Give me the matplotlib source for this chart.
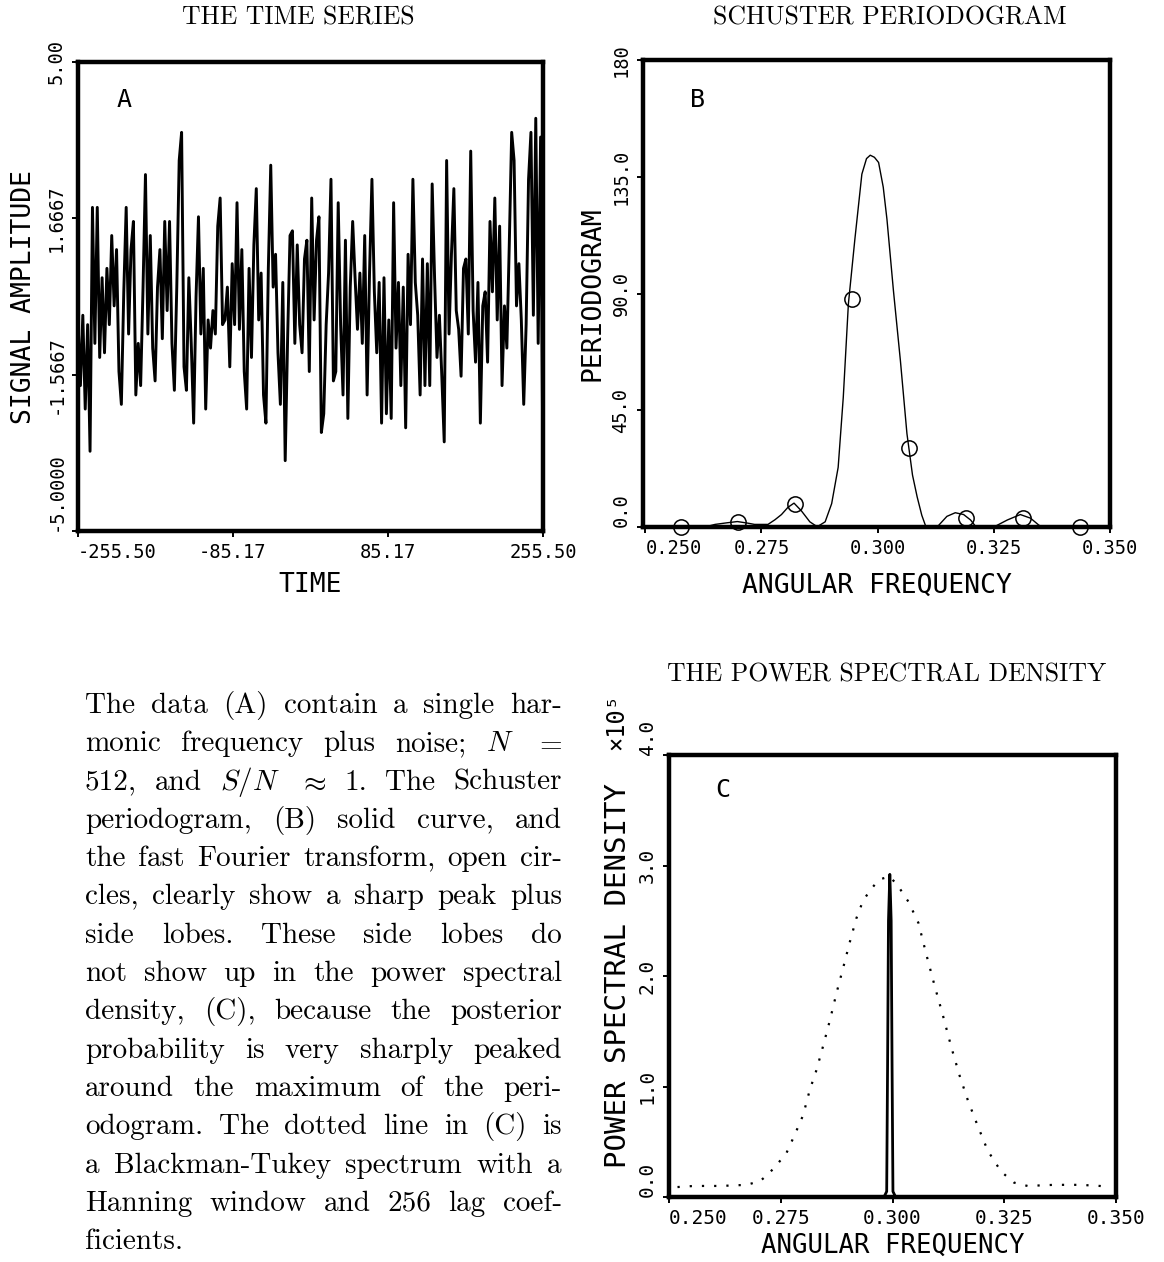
import numpy as np
import matplotlib
matplotlib.use("Agg")
import matplotlib.pyplot as plt

W, H, DPI = 1164, 1262, 100
MONO = "DejaVu Sans Mono"
SERIF = "cmr10"
plt.rcParams["font.family"] = MONO
plt.rcParams["mathtext.fontset"] = "cm"

# ---- (A) time series (left -> right) ----
ts_part1 = [-0.5, -1.9, -0.4, -2.4, -0.6, -3.3, 1.9, -1.0, 1.9, -1.3, 0.4, -1.2, 0.6, -0.6,
            1.3, -0.2, 1.0, -1.6, -2.3, 0.1, 1.9, -0.8, 1.0, 1.6, -2.1, -1.0, -1.9, 0.2, 2.6,
            -0.8, 1.3, -1.1, -1.8, 0.2, 1.0, -0.9, 1.6, -0.3, 1.6, -1.0, -2.0, 0.2, 2.9, 3.5,
            -1.5, -2.0, 0.4, -1.0, -2.7, 0.0, 1.7, -0.8, 0.6, -2.4, -0.5, -1.1, -0.3, -0.8,
            1.5, 2.1, -0.6]
ts_part2 = [-0.5, 0.2, -1.5, 0.7, -0.6, 2.0, -0.7, 1.0, -1.6, -2.4, 0.6, -1.3, 1.1, 2.3,
            -0.5, 0.5, -2.1, -2.7, 0.6, 2.8, 0.2, 0.9, -1.2, -2.3, 0.3, -3.5, -0.9, 1.3, 1.4,
            -1.0, 1.1, -0.6, -1.2, 0.8, 1.2, -1.6, 2.1, -0.5, 1.2, 1.7, -2.9, -2.5, -0.6, 0.5,
            2.5, -1.8, -1.6, 2.0, -0.6, -2.1, 1.2, -2.6, 0.2, 1.6, 0.4, -0.7, 0.5, -1.0, 1.3,
            -2.1, 0.5, 2.5, 0.1, -1.2, 0.3, -2.7]
ts_part3 = [0.4, -2.5, -0.5, -2.6, 2.0, -1.1, 0.3, -1.9, 0.2, -2.8, 0.9, -0.6, 2.5, 0.3,
            -0.4, -2.1, 0.8, -1.9, 0.7, -1.9, 2.4, 0.4, -1.3, -0.4, -1.7, -3.1, 2.9, -0.8, 0.9,
            2.3, -0.3, -0.7, -1.7, 0.6, 0.8, -0.8, 3.1, -0.3, -1.4, 0.3, -2.7, -0.2, 0.1, -1.4,
            1.6, 0.1, 2.1, -0.5, 1.5, -1.9, -0.2, -1.1, 1.1, 3.5, 2.9, -0.2, 0.7, -0.5, -2.3,
            -0.6, 2.5, 3.5, -0.4, 3.8, -1.0, 3.4, -4.0]
ts_vals = ts_part1 + ts_part2 + ts_part3
T_MIN, T_MAX = -255.5, 255.5
time_ticks = [-255.5, -85.17, 85.17, 255.5]
time_ticklabels = ["-255.50", "-85.17", "85.17", "255.50"]
amp_ticks = [-5.0, -1.6667, 1.6667, 5.0]
amp_ticklabels = ["-5.0000", "-1.5667", "1.6667", "5.00"]

# ---- (B) Schuster periodogram (solid) + FFT points (circles) ----
per_freq = [0.2495, 0.255, 0.260, 0.2635, 0.265, 0.2675, 0.2698, 0.272, 0.2735, 0.2764,
            0.2779, 0.2793, 0.2807, 0.282, 0.2836, 0.2854, 0.287, 0.2887, 0.2901, 0.2915,
            0.2926, 0.2937, 0.2951, 0.2966, 0.2976, 0.2984, 0.2993, 0.3002, 0.3012, 0.302,
            0.3034, 0.3049, 0.3063, 0.3075, 0.3085, 0.3095, 0.3103, 0.3128, 0.3149, 0.3167,
            0.3185, 0.320, 0.321, 0.325, 0.3279, 0.3307, 0.3329, 0.3347, 0.3354, 0.350]
per_vals = [0, 0, 0, 0.3, 1.0, 1.6, 2.1, 1.5, 1.0, 1.0,
            2.8, 4.8, 7.6, 9.2, 6.2, 2.0, 0.1, 2.0, 9.0, 23.0,
            50.0, 86.0, 111.0, 136.0, 142.0, 143.3, 142.5, 140.5, 131.0, 118.6,
            91.0, 64.0, 36.0, 20.0, 11.6, 4.5, 0.5, 0, 4.1, 5.5,
            4.8, 2.7, 0.4, 0, 2.7, 4.8, 3.4, 0.7, 0, 0]
fft_freq = [0.2576, 0.2699, 0.2822, 0.2945, 0.3067, 0.3190, 0.3313, 0.3436]
fft_vals = [0, 2.0, 9.0, 88.0, 30.5, 3.4, 3.4, 0]
freq_ticks = [0.250, 0.275, 0.300, 0.325, 0.350]
freq_ticklabels = ["0.250", "0.275", "0.300", "0.325", "0.350"]
per_ticks = [0, 45, 90, 135, 180]
per_ticklabels = ["0.0", "45.0", "90.0", "135.0", "180"]

# ---- (C) power spectral density (x1e5): Bayesian spike + Blackman-Tukey (dotted) ----
psd_freq = [0.2981, 0.2987, 0.2989, 0.2991, 0.2994, 0.2997, 0.2999, 0.3001, 0.3007]
psd_vals = [0, 0.05, 1.2, 2.5, 2.92, 2.5, 1.2, 0.05, 0]
bt_freq = [0.2519, 0.2556, 0.2615, 0.2674, 0.2704, 0.2723, 0.2745, 0.2763, 0.2782, 0.280,
           0.2815, 0.283, 0.2845, 0.286, 0.2875, 0.289, 0.2904, 0.2919, 0.2934, 0.2949,
           0.2967, 0.2976, 0.2993, 0.301, 0.3036, 0.3058, 0.3076, 0.3095, 0.3113, 0.3132,
           0.315, 0.3169, 0.3191, 0.3213, 0.3243, 0.3272, 0.3302, 0.3361, 0.342, 0.3464, 0.3483]
bt_vals = [0.09, 0.10, 0.10, 0.11, 0.145, 0.21, 0.31, 0.40, 0.57, 0.74,
           0.97, 1.15, 1.37, 1.60, 1.85, 2.08, 2.30, 2.52, 2.68, 2.77,
           2.86, 2.88, 2.90, 2.83, 2.67, 2.48, 2.19, 1.90, 1.64, 1.35,
           1.10, 0.87, 0.64, 0.42, 0.23, 0.13, 0.10, 0.11, 0.11, 0.10, 0.09]
psd_ticks = [0.0, 1.0, 2.0, 3.0, 4.0]
psd_ticklabels = ["0.0", "1.0", "2.0", "3.0", "4.0"]

caption = [
    "The data (A) contain a single har-",
    "monic frequency plus noise; $N$ $=$",
    "512, and $S/N$ $\\approx$ 1. The Schuster",
    "periodogram, (B) solid curve, and",
    "the fast Fourier transform, open cir-",
    "cles, clearly show a sharp peak plus",
    "side lobes. These side lobes do",
    "not show up in the power spectral",
    "density, (C), because the posterior",
    "probability is very sharply peaked",
    "around the maximum of the peri-",
    "odogram. The dotted line in (C) is",
    "a Blackman-Tukey spectrum with a",
    "Hanning window and 256 lag coef-",
    "ficients.",
]


def box(l, t, r, b):
    # pixel box -> figure fraction rect
    return [l / W, 1 - b / H, (r - l) / W, (b - t) / H]


def frame(ax, xt, xtl, yt, ytl, lab_size=13.5):
    for s in ax.spines.values():
        s.set_linewidth(3.2)
    ax.set_xticks(xt)
    ax.set_xticklabels(xtl)
    ax.set_yticks(yt)
    ax.set_yticklabels(ytl, rotation=90, va="center")
    ax.tick_params(direction="out", length=4, width=1.4, labelsize=lab_size)
    ax.tick_params(axis="x", pad=5)
    ax.tick_params(axis="y", pad=5)
    ax.get_xticklabels()[0].set_ha("left")
    ax.get_yticklabels()[0].set_va("bottom")


fig = plt.figure(figsize=(W / DPI, H / DPI), dpi=DPI)

# ---------------- A ----------------
axA = fig.add_axes(box(78, 62, 543, 531))
t = np.linspace(T_MIN, T_MAX, len(ts_vals))
axA.plot(t, ts_vals, color="k", lw=2.1)
axA.set_xlim(T_MIN, T_MAX)
axA.set_ylim(-5, 5)
frame(axA, time_ticks, time_ticklabels, amp_ticks, amp_ticklabels)
axA.set_xlabel("TIME", fontsize=19)
axA.set_ylabel("SIGNAL AMPLITUDE", fontsize=19)
axA.xaxis.set_label_coords(0.5, -0.087)
axA.yaxis.set_label_coords(-0.088, 0.5)
axA.text(0.10, 0.92, "A", transform=axA.transAxes, fontsize=18, ha="center", va="center")

# ---------------- B ----------------
axB = fig.add_axes(box(643, 60, 1110, 527))
axB.plot(per_freq, per_vals, color="k", lw=1.0)
axB.plot(fft_freq, fft_vals, "o", mfc="none", mec="k", ms=11, mew=1.1, clip_on=False)
axB.set_xlim(0.2495, 0.350)
axB.set_ylim(0, 180)
frame(axB, freq_ticks, freq_ticklabels, per_ticks, per_ticklabels)
axB.set_xlabel("ANGULAR FREQUENCY", fontsize=19)
axB.set_ylabel("PERIODOGRAM", fontsize=19)
axB.xaxis.set_label_coords(0.5, -0.098)
axB.yaxis.set_label_coords(-0.081, 0.5)
axB.text(0.116, 0.914, "B", transform=axB.transAxes, fontsize=18, ha="center", va="center")

# ---------------- C ----------------
axC = fig.add_axes(box(669, 755, 1116, 1197))
axC.plot(bt_freq, bt_vals, color="k", lw=1.6, ls=(0, (1.0, 4.5)))
axC.plot(psd_freq, psd_vals, color="k", lw=2.0)
axC.set_xlim(0.250, 0.350)
axC.set_ylim(0, 4.0)
frame(axC, freq_ticks, freq_ticklabels, psd_ticks, psd_ticklabels, lab_size=14)
axC.get_yticklabels()[-1].set_va("bottom")
axC.set_xlabel("ANGULAR FREQUENCY", fontsize=18.5)
axC.set_ylabel("POWER SPECTRAL DENSITY", fontsize=21)
axC.xaxis.set_label_coords(0.5, -0.08)
axC.yaxis.set_label_coords(-0.083, 0.5)
axC.text(0.12, 0.92, "C", transform=axC.transAxes, fontsize=18, ha="center", va="center")
fig.text(616 / W, 1 - 722 / H, "\u00d710\u2075", rotation=90, fontsize=17,
         ha="center", va="center")

# ---------------- titles ----------------
fig.text(298 / W, 1 - 18 / H, "THE TIME SERIES", family=SERIF, fontsize=18.5,
         ha="center", va="center")
fig.text(890 / W, 1 - 18 / H, "SCHUSTER PERIODOGRAM", family=SERIF, fontsize=18.5,
         ha="center", va="center")
fig.text(887 / W, 1 - 675 / H, "THE POWER SPECTRAL DENSITY", family=SERIF, fontsize=18.5,
         ha="center", va="center")

# ---------------- justified caption ----------------
renderer = fig.canvas.get_renderer()
X0, X1, BASE, STEP = 85, 562, 713, 38.3
for i, line in enumerate(caption):
    y = 1 - (BASE + i * STEP) / H
    words = line.split()
    txts = [fig.text(0, y, w, family=SERIF, fontsize=21, va="baseline") for w in words]
    widths = [tx.get_window_extent(renderer).width for tx in txts]
    if i == len(caption) - 1 or len(words) == 1:
        gap = 7.0
    else:
        gap = (X1 - X0 - sum(widths)) / (len(words) - 1)
    x = X0
    for tx, w in zip(txts, widths):
        tx.set_x(x / W)
        x += w + gap

fig.savefig("out.png", dpi=DPI)
